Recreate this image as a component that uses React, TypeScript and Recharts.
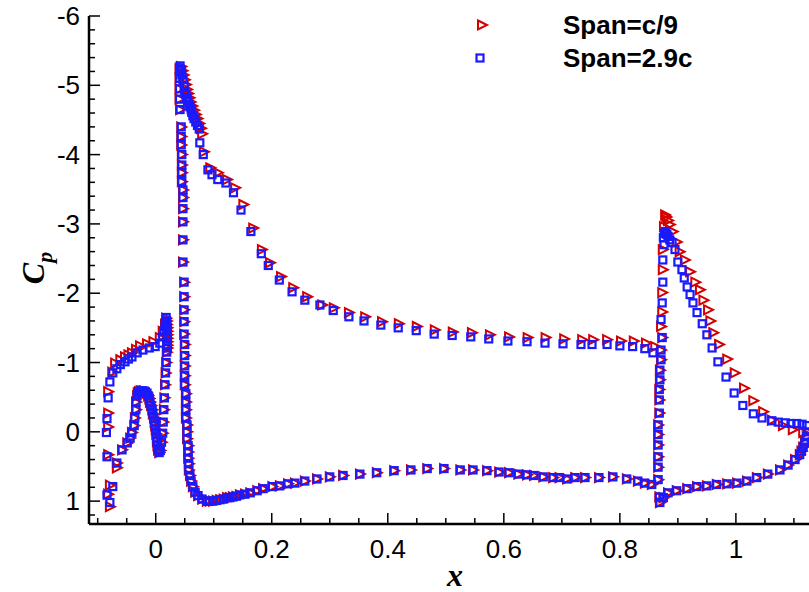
import React from 'react';
import { ScatterChart, Scatter, XAxis, YAxis } from 'recharts';

// page has an 8px body margin by default
if (typeof document !== 'undefined') document.body.style.margin = '0';

type Pt = [number, number]; // [x, Cp]

// ---- tick labels
const xMajor = [0, 0.2, 0.4, 0.6, 0.8, 1];
const yMajor = [-6, -5, -4, -3, -2, -1, 0, 1];
const legendNames = ['Span=c/9', 'Span=2.9c'];

// ---- slat
const slatUpperC9: Pt[] = [
  [-0.079, 1.08], [-0.082, 0.9], [-0.079, 0.77], [-0.067, 0.52], [-0.082, 0.33], [-0.082, -0.07],
  [-0.082, -0.27], [-0.082, -0.58], [-0.075, -0.86], [-0.07, -0.99], [-0.061, -1.04], [-0.053, -1.08],
  [-0.047, -1.11], [-0.041, -1.14], [-0.034, -1.19], [-0.027, -1.24], [-0.015, -1.27], [-0.004, -1.3],
  [0.007, -1.36], [0.012, -1.45], [0.016, -1.55], [0.018, -1.64],
];
const slatUpper29: Pt[] = [
  [-0.079, 1.02], [-0.084, 0.91], [-0.074, 0.79], [-0.084, 0.36], [-0.085, 0.01], [-0.084, -0.19],
  [-0.082, -0.49], [-0.079, -0.72], [-0.074, -0.85], [-0.067, -0.91], [-0.061, -0.97], [-0.053, -1.01],
  [-0.047, -1.05], [-0.041, -1.08], [-0.032, -1.14], [-0.022, -1.18], [-0.011, -1.21], [-0.001, -1.23],
  [0.007, -1.28], [0.012, -1.37], [0.014, -1.45], [0.016, -1.52], [0.017, -1.58], [0.018, -1.65],
];
const slatCove: Pt[] = [
  [-0.067, 0.45], [-0.058, 0.26], [-0.049, 0.16], [-0.044, 0.09], [-0.041, 0.01], [-0.037, -0.09],
  [-0.036, -0.2], [-0.034, -0.32], [-0.034, -0.43], [-0.032, -0.52], [-0.031, -0.56], [-0.029, -0.58],
  [-0.026, -0.59], [-0.023, -0.59], [-0.02, -0.59], [-0.018, -0.58], [-0.015, -0.56], [-0.013, -0.52],
  [-0.011, -0.48], [-0.01, -0.43], [-0.008, -0.38], [-0.006, -0.32], [-0.005, -0.26], [-0.003, -0.2],
  [-0.002, -0.14], [-0.001, -0.09], [0.0, -0.03], [0.001, 0.03], [0.002, 0.09], [0.002, 0.14],
  [0.003, 0.2], [0.004, 0.26], [0.006, 0.3], [0.008, 0.27], [0.01, 0.15], [0.012, 0.02],
  [0.013, -0.14], [0.014, -0.32], [0.015, -0.49], [0.016, -0.68], [0.017, -0.85], [0.018, -1.0],
  [0.019, -1.15],
];
const slatTrailing: Pt[] = [
  [0.019, -1.6], [0.019, -1.55], [0.02, -1.5], [0.02, -1.45], [0.02, -1.4], [0.02, -1.35],
  [0.02, -1.3], [0.02, -1.25], [0.02, -1.21],
];

// ---- main element
const mainUpperC9: Pt[] = [
  [0.861, -1.23], [0.845, -1.28], [0.824, -1.31], [0.802, -1.31], [0.778, -1.33], [0.754, -1.33],
  [0.735, -1.33], [0.704, -1.34], [0.672, -1.36], [0.641, -1.36], [0.609, -1.37], [0.576, -1.4],
  [0.545, -1.43], [0.512, -1.44], [0.481, -1.47], [0.45, -1.52], [0.419, -1.56], [0.39, -1.59],
  [0.361, -1.66], [0.333, -1.72], [0.307, -1.79], [0.287, -1.83], [0.261, -1.95], [0.237, -2.08],
  [0.216, -2.24], [0.197, -2.44], [0.183, -2.63], [0.168, -2.94], [0.151, -3.28], [0.137, -3.52],
  [0.123, -3.64], [0.107, -3.74], [0.094, -3.81], [0.083, -4.04], [0.08, -4.3], [0.078, -4.38],
  [0.075, -4.45], [0.072, -4.52], [0.069, -4.58], [0.066, -4.64], [0.063, -4.7], [0.06, -4.76],
  [0.058, -4.82], [0.056, -4.88], [0.054, -4.94], [0.052, -5.01], [0.05, -5.08], [0.048, -5.15],
  [0.046, -5.21], [0.044, -5.27],
];
const mainUpper29: Pt[] = [
  [0.857, -1.14], [0.843, -1.2], [0.822, -1.23], [0.8, -1.24], [0.778, -1.26], [0.752, -1.26],
  [0.733, -1.26], [0.702, -1.27], [0.671, -1.28], [0.64, -1.3], [0.607, -1.31], [0.574, -1.34],
  [0.543, -1.37], [0.511, -1.39], [0.48, -1.41], [0.449, -1.46], [0.418, -1.5], [0.388, -1.54],
  [0.359, -1.6], [0.333, -1.66], [0.306, -1.75], [0.283, -1.83], [0.257, -1.9], [0.235, -2.02],
  [0.213, -2.19], [0.194, -2.4], [0.182, -2.57], [0.164, -2.89], [0.147, -3.2], [0.134, -3.45],
  [0.121, -3.59], [0.107, -3.64], [0.097, -3.71], [0.09, -3.78], [0.082, -4.0], [0.076, -4.17],
  [0.075, -4.37], [0.072, -4.42], [0.069, -4.47], [0.066, -4.52], [0.064, -4.56], [0.062, -4.61],
  [0.061, -4.65], [0.059, -4.69], [0.057, -4.73], [0.055, -4.78], [0.054, -4.82], [0.052, -4.87],
  [0.05, -4.91], [0.049, -4.99], [0.047, -5.08], [0.045, -5.15], [0.044, -5.22], [0.042, -5.28],
];
const mainNose: Pt[] = [
  [0.041, -5.24], [0.041, -5.1], [0.041, -4.95], [0.041, -4.8], [0.042, -4.65], [0.044, -4.4],
  [0.044, -4.26], [0.044, -4.14], [0.045, -4.0], [0.045, -3.85], [0.045, -3.74], [0.045, -3.61],
  [0.047, -3.49], [0.047, -3.38], [0.047, -3.22], [0.047, -3.03], [0.047, -2.77], [0.047, -2.45],
  [0.049, -2.16], [0.049, -1.95], [0.049, -1.76], [0.049, -1.59], [0.049, -1.41], [0.05, -1.26],
  [0.05, -1.1], [0.05, -0.95], [0.05, -0.81], [0.05, -0.68], [0.052, -0.55], [0.052, -0.43],
  [0.052, -0.32], [0.052, -0.2], [0.054, -0.1], [0.054, 0.0], [0.054, 0.1], [0.056, 0.2],
  [0.056, 0.29], [0.056, 0.38], [0.057, 0.46], [0.057, 0.55], [0.059, 0.63], [0.061, 0.71],
  [0.064, 0.79], [0.068, 0.87], [0.073, 0.92], [0.08, 0.97], [0.088, 1.0],
];
const mainLower: Pt[] = [
  [0.093, 1.0], [0.099, 1.0], [0.105, 0.99], [0.111, 0.98], [0.117, 0.97], [0.123, 0.95],
  [0.128, 0.95], [0.133, 0.94], [0.139, 0.93], [0.145, 0.91], [0.154, 0.9], [0.163, 0.88],
  [0.175, 0.85], [0.185, 0.82], [0.201, 0.79], [0.214, 0.78], [0.228, 0.75], [0.24, 0.74],
  [0.257, 0.71], [0.278, 0.68], [0.3, 0.65], [0.323, 0.63], [0.352, 0.61], [0.381, 0.59],
  [0.411, 0.56], [0.44, 0.55], [0.468, 0.53], [0.497, 0.53], [0.525, 0.55], [0.547, 0.55],
  [0.571, 0.56], [0.592, 0.58], [0.609, 0.59], [0.625, 0.61], [0.64, 0.62], [0.652, 0.63],
  [0.668, 0.65], [0.685, 0.66], [0.696, 0.66], [0.709, 0.68], [0.723, 0.66], [0.74, 0.66],
  [0.764, 0.66], [0.788, 0.65], [0.812, 0.68], [0.831, 0.71], [0.843, 0.74], [0.855, 0.76],
];

// ---- flap
const flapUpperC9: Pt[] = [
  [0.868, 0.94], [0.866, 0.69], [0.866, 0.51], [0.866, 0.36], [0.866, 0.19], [0.866, 0.04],
  [0.866, -0.1], [0.868, -0.27], [0.868, -0.46], [0.868, -0.61], [0.869, -0.75], [0.869, -0.89],
  [0.871, -1.04], [0.871, -1.18], [0.873, -1.36], [0.871, -1.52], [0.873, -1.73], [0.873, -2.01],
  [0.874, -2.34], [0.874, -2.63], [0.876, -2.96], [0.878, -3.13], [0.88, -3.1], [0.883, -3.05],
  [0.886, -2.99], [0.891, -2.89], [0.898, -2.74], [0.903, -2.6], [0.912, -2.48], [0.921, -2.31],
  [0.93, -2.16], [0.938, -2.05], [0.944, -1.9], [0.952, -1.76], [0.956, -1.6], [0.961, -1.43],
  [0.971, -1.26], [0.985, -1.05], [0.998, -0.85], [1.014, -0.63], [1.03, -0.45], [1.047, -0.29],
  [1.062, -0.17], [1.081, -0.09], [1.098, -0.03], [1.116, 0.01],
];
const flapUpper29: Pt[] = [
  [0.868, 0.94], [0.866, 0.69], [0.866, 0.51], [0.866, 0.36], [0.866, 0.19], [0.866, 0.04],
  [0.866, -0.1], [0.868, -0.27], [0.868, -0.46], [0.868, -0.61], [0.869, -0.75], [0.869, -0.89],
  [0.871, -1.04], [0.871, -1.18], [0.873, -1.36], [0.871, -1.62], [0.873, -1.86], [0.874, -2.16],
  [0.874, -2.48], [0.876, -2.7], [0.875, -2.8], [0.877, -2.86], [0.878, -2.89], [0.879, -2.88],
  [0.881, -2.85], [0.883, -2.82], [0.886, -2.77], [0.89, -2.73], [0.895, -2.63], [0.9, -2.45],
  [0.907, -2.34], [0.911, -2.22], [0.916, -2.09], [0.921, -1.98], [0.926, -1.86], [0.933, -1.72],
  [0.942, -1.56], [0.95, -1.4], [0.959, -1.21], [0.969, -1.01], [0.983, -0.79], [0.997, -0.56],
  [1.012, -0.38], [1.03, -0.26], [1.045, -0.2], [1.062, -0.16], [1.073, -0.14], [1.085, -0.13],
  [1.095, -0.12], [1.105, -0.12], [1.114, -0.11], [1.122, -0.09],
];
const flapLower: Pt[] = [
  [1.124, 0.0], [1.122, 0.07], [1.119, 0.15], [1.116, 0.22], [1.113, 0.28], [1.11, 0.33],
  [1.102, 0.4], [1.09, 0.48], [1.076, 0.55], [1.055, 0.61], [1.036, 0.66], [1.019, 0.71],
  [1.002, 0.74], [0.985, 0.75], [0.967, 0.76], [0.95, 0.78], [0.933, 0.79], [0.916, 0.82],
  [0.898, 0.85], [0.883, 0.88], [0.875, 0.95], [0.869, 1.02],
];

const toRows = (...parts: Pt[][]) => parts.flat().map(([x, cp]) => ({ x, cp }));

const spanC9 = toRows(slatUpperC9, slatCove, slatTrailing, mainUpperC9, mainNose, mainLower, flapUpperC9, flapLower);
const span29 = toRows(slatUpper29, slatCove, slatTrailing, mainUpper29, mainNose, mainLower, flapUpper29, flapLower);

// layout
const W = 809;
const H = 592;
const LEFT = 89;
const TOP = 16;
const BOTTOM = 524;
const RED = '#d40000';
const BLUE = '#1a1aff';
const SANS = '"Liberation Sans", Arial, sans-serif';
const SERIF = '"Liberation Serif", "Times New Roman", serif';

const near = (a: number, b: number) => Math.abs(a - b) < 1e-6;
const r2 = (v: number) => Math.round(v * 100) / 100;

// minor ticks between the labelled ones
const xTicks: number[] = [];
for (let v = -0.1; v <= 1.1001; v += 0.05) xTicks.push(r2(v));
const yTicks: number[] = [];
for (let v = -6; v <= 1.2001; v += 0.2) yTicks.push(r2(v));

const Tri = (p: any) => {
  const { cx, cy } = p;
  if (cx == null || cy == null) return null;
  return (
    <polygon
      points={`${cx - 4},${cy - 4.5} ${cx + 5},${cy} ${cx - 4},${cy + 4.5}`}
      fill="none"
      stroke={RED}
      strokeWidth={2}
    />
  );
};

const Sq = (p: any) => {
  const { cx, cy } = p;
  if (cx == null || cy == null) return null;
  return <rect x={cx - 3.5} y={cy - 3.5} width={7} height={7} fill="none" stroke={BLUE} strokeWidth={2.2} />;
};

const XTick = ({ x, payload }: any) => {
  const v = payload.value;
  const major = xMajor.some((m) => near(m, v));
  return (
    <g>
      <line x1={x} x2={x} y1={BOTTOM} y2={BOTTOM - (major ? 11 : 6)} stroke="#000" strokeWidth={1.5} />
      {major && (
        <text x={x} y={BOTTOM + 34} textAnchor="middle" fontFamily={SANS} fontSize={26} fill="#000">
          {String(v)}
        </text>
      )}
    </g>
  );
};

const YTick = ({ y, payload }: any) => {
  const v = payload.value;
  const major = yMajor.some((m) => near(m, v));
  return (
    <g>
      <line x1={LEFT} x2={LEFT + (major ? 11 : 6)} y1={y} y2={y} stroke="#000" strokeWidth={1.5} />
      {major && (
        <text x={LEFT - 9} y={y + 9} textAnchor="end" fontFamily={SANS} fontSize={26} fill="#000">
          {String(v)}
        </text>
      )}
    </g>
  );
};

export default function App() {
  return (
    <div style={{ position: 'relative', width: W, height: H, background: '#fff' }}>
      <ScatterChart width={W} height={H} margin={{ top: TOP, right: 0, bottom: 0, left: 0 }}>
        <XAxis
          type="number"
          dataKey="x"
          domain={[-0.115, 1.126]}
          allowDataOverflow
          ticks={xTicks}
          interval={0}
          tick={<XTick />}
          tickLine={false}
          height={H - BOTTOM}
          axisLine={{ stroke: '#000', strokeWidth: 2.5 }}
        />
        <YAxis
          type="number"
          dataKey="cp"
          domain={[-6, 1.33]}
          reversed
          allowDataOverflow
          ticks={yTicks}
          interval={0}
          tick={<YTick />}
          tickLine={false}
          width={LEFT}
          axisLine={{ stroke: '#000', strokeWidth: 2.5 }}
        />
        <Scatter name={legendNames[0]} data={spanC9} shape={Tri} isAnimationActive={false} />
        <Scatter name={legendNames[1]} data={span29} shape={Sq} isAnimationActive={false} />
      </ScatterChart>

      <svg width={W} height={H} style={{ position: 'absolute', left: 0, top: 0, pointerEvents: 'none' }}>
        {/* axis titles */}
        <text
          transform="rotate(-90 44 268)"
          x={44}
          y={268}
          textAnchor="middle"
          fontFamily={SERIF}
          fontWeight="bold"
          fontStyle="italic"
          fontSize={32}
        >
          C<tspan fontSize={22} dy={8}>p</tspan>
        </text>
        <text x={455} y={586} textAnchor="middle" fontFamily={SERIF} fontWeight="bold" fontStyle="italic" fontSize={32}>
          x
        </text>

        {/* legend */}
        <polygon points="478,20.5 487,25 478,29.5" fill="none" stroke={RED} strokeWidth={2} />
        <text x={563} y={34} fontFamily={SANS} fontWeight="bold" fontSize={26}>
          {legendNames[0]}
        </text>
        <rect x={476.5} y={54.5} width={7} height={7} fill="none" stroke={BLUE} strokeWidth={2.2} />
        <text x={563} y={67} fontFamily={SANS} fontWeight="bold" fontSize={26}>
          {legendNames[1]}
        </text>
      </svg>
    </div>
  );
}
